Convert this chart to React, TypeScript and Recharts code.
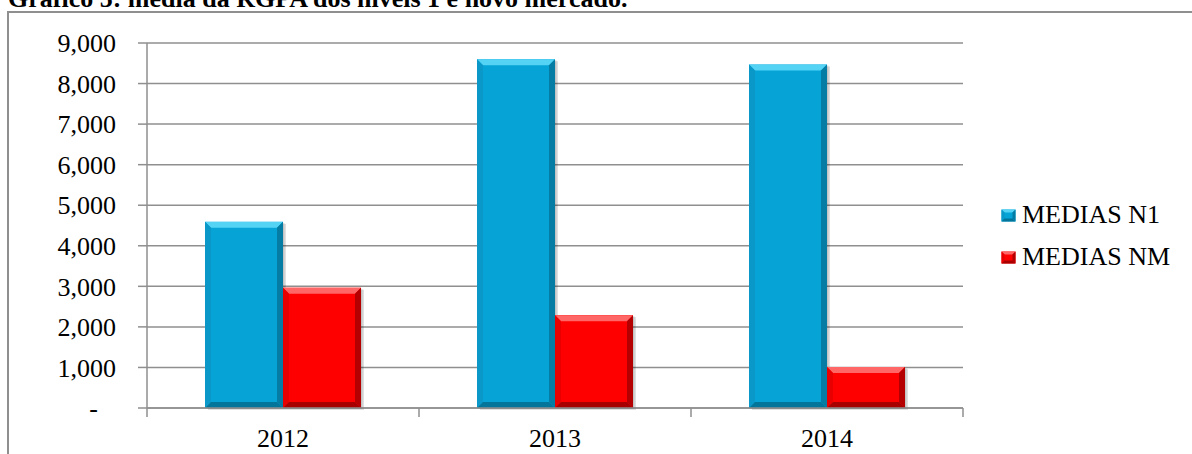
import React from 'react';
import { BarChart, Bar, XAxis, YAxis, CartesianGrid, Legend } from 'recharts';

// ---- data ----
const years = ['2012', '2013', '2014'];
const mediasN1 = [4590, 8600, 8470];
const mediasNM = [2965, 2290, 1010];
const yTicks = [0, 1000, 2000, 3000, 4000, 5000, 6000, 7000, 8000, 9000];
const seriesNames = ['MEDIAS N1', 'MEDIAS NM'];
const titleText = 'Gráfico 5: média da RGPA dos níveis 1 e novo mercado.';

const data = years.map((year, i) => ({ year, n1: mediasN1[i], nm: mediasNM[i] }));

// ---- layout / style ----
const CHART_W = 1192;
const CHART_H = 454;
const MARGIN = { top: 43, right: 229, bottom: 0, left: 0 };
const Y_AXIS_W = 147;
const X_AXIS_H = 46;
const PLOT_W = CHART_W - MARGIN.left - MARGIN.right - Y_AXIS_W;
const BAND = PLOT_W / years.length;
const AXIS_Y = CHART_H - MARGIN.bottom - X_AXIS_H;
const FONT = '"Liberation Serif", "Times New Roman", serif';
const GRAY = '#8f8f8f';

type Palette = { base: string; top: string; left: string; right: string; bottom: string };
const BLUE: Palette = { base: '#05a3d6', top: '#55d3f5', left: '#0a98c8', right: '#047ca3', bottom: '#04759a' };
const RED: Palette = { base: '#fe0000', top: '#ff6666', left: '#e80000', right: '#b40000', bottom: '#a80000' };

function bevelParts(x: number, y: number, w: number, h: number, p: Palette, b: number) {
  return (
    <>
      <rect x={x} y={y} width={w} height={h} fill={p.base} />
      <polygon points={`${x},${y} ${x + w},${y} ${x + w - b},${y + b} ${x + b},${y + b}`} fill={p.top} />
      <polygon points={`${x},${y} ${x + b},${y + b} ${x + b},${y + h - b} ${x},${y + h}`} fill={p.left} />
      <polygon points={`${x + w},${y} ${x + w},${y + h} ${x + w - b},${y + h - b} ${x + w - b},${y + b}`} fill={p.right} />
      <polygon points={`${x},${y + h} ${x + w},${y + h} ${x + w - b},${y + h - b} ${x + b},${y + h - b}`} fill={p.bottom} />
    </>
  );
}

function makeBevelShape(p: Palette) {
  return (props: any) => {
    const { x, y, width, height } = props;
    if (!width || !height || height <= 0) return null;
    const b = Math.min(6, width / 4, height / 4);
    return (
      <g>
        <rect x={x + 3} y={y + 2} width={width} height={height} fill="rgba(0,0,0,0.12)" />
        <rect x={x + 1.5} y={y + 1} width={width} height={height} fill="rgba(0,0,0,0.12)" />
        {bevelParts(x, y, width, height, p, b)}
      </g>
    );
  };
}

const BlueShape = makeBevelShape(BLUE);
const RedShape = makeBevelShape(RED);

const yFormatter = (v: number) => (v === 0 ? '-\u00A0\u00A0\u2009' : v.toLocaleString('en-US'));

const XTick = (props: any) => {
  const { x, payload, index } = props;
  const lines = [x - BAND / 2];
  if (index === years.length - 1) lines.push(x + BAND / 2);
  return (
    <g>
      {lines.map((lx, i) => (
        <line key={i} x1={lx} x2={lx} y1={AXIS_Y} y2={AXIS_Y + 9} stroke={GRAY} strokeWidth={1.5} />
      ))}
      <text x={x} y={AXIS_Y + 39} textAnchor="middle" fontFamily={FONT} fontSize={26} fill="#000">
        {payload.value}
      </text>
    </g>
  );
};

const LegendContent = (props: any) => {
  const payload = props.payload || [];
  return (
    <div style={{ fontFamily: FONT, fontSize: 26, color: '#000' }}>
      {payload.map((e: any) => {
        const p = e.color === RED.base ? RED : BLUE;
        return (
          <div key={e.value} style={{ display: 'flex', alignItems: 'center', height: 42, whiteSpace: 'nowrap' }}>
            <svg width={15} height={13} style={{ marginRight: 6, flex: 'none' }}>
              {bevelParts(0.5, 0.5, 14, 12, p, 3)}
            </svg>
            <span>{e.value}</span>
          </div>
        );
      })}
    </div>
  );
};

export default function App() {
  return (
    <div style={{ position: 'absolute', left: 0, top: 0, width: CHART_W, height: CHART_H, overflow: 'hidden', background: '#fff' }}>
      <div
        style={{
          position: 'absolute',
          left: 7,
          top: 11,
          width: 1400,
          height: 1000,
          borderLeft: `2px solid ${GRAY}`,
          borderTop: `2px solid ${GRAY}`,
        }}
      />
      <svg width={CHART_W} height={30} style={{ position: 'absolute', left: 0, top: 0 }}>
        <text x={8} y={6.5} fontFamily={FONT} fontWeight="bold" fontSize={26} fill="#000">
          {titleText}
        </text>
      </svg>
      <div style={{ position: 'absolute', left: 0, top: 0 }}>
        <BarChart width={CHART_W} height={CHART_H} data={data} margin={MARGIN} barGap={0} barSize={78}>
          <CartesianGrid vertical={false} stroke={GRAY} strokeWidth={1.5} />
          <XAxis
            dataKey="year"
            height={X_AXIS_H}
            tickLine={false}
            axisLine={{ stroke: GRAY, strokeWidth: 1.5 }}
            tick={<XTick />}
            interval={0}
          />
          <YAxis
            width={Y_AXIS_W}
            domain={[0, 9000]}
            ticks={yTicks}
            interval={0}
            tickFormatter={yFormatter}
            tickSize={9}
            tickMargin={22}
            axisLine={{ stroke: GRAY, strokeWidth: 1.5 }}
            tickLine={{ stroke: GRAY, strokeWidth: 1.5 }}
            tick={{ fontFamily: FONT, fontSize: 26, fill: '#000' }}
          />
          <Legend
            layout="vertical"
            align="center"
            verticalAlign="middle"
            content={<LegendContent />}
            wrapperStyle={{ left: 1001, top: 194, width: 190, right: 'auto', bottom: 'auto' }}
          />
          <Bar dataKey="n1" name={seriesNames[0]} fill={BLUE.base} shape={<BlueShape />} isAnimationActive={false} />
          <Bar dataKey="nm" name={seriesNames[1]} fill={RED.base} shape={<RedShape />} isAnimationActive={false} />
        </BarChart>
      </div>
    </div>
  );
}
